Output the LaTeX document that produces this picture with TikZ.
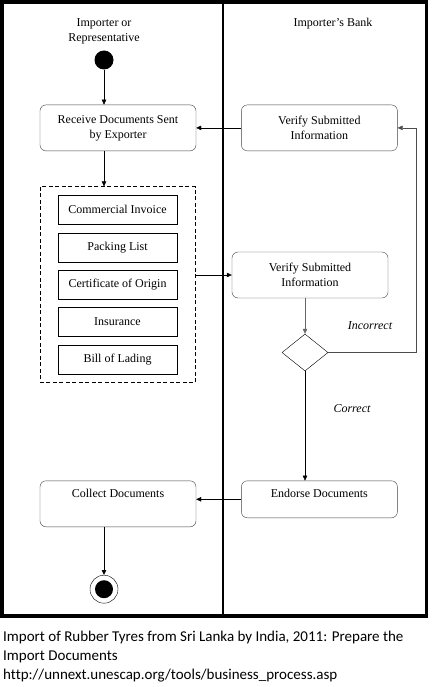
\documentclass[tikz,border=0pt]{standalone}
\usepackage{fontspec}
\setmainfont{Liberation Serif}
\newfontfamily\capfont[Ligatures=NoCommon]{Carlito}
\usetikzlibrary{positioning,arrows.meta,fit,shapes.geometric}

\begin{document}
\begin{tikzpicture}[
  x=1pt, y=-1pt,
  node distance=8pt,
  font=\fontsize{12}{15}\selectfont,
  act/.style={draw=black!75,rounded corners=6pt,minimum width=156pt,minimum height=46pt,align=center,inner sep=0pt},
  toptext/.style={inner ysep=5pt,text height=11.5pt,text depth=#1},
  doc/.style={draw,minimum width=119pt,minimum height=29pt,inner sep=0pt},
  lane/.style={align=center},
  guard/.style={font=\fontsize{12}{15}\selectfont\itshape},
  caption/.style={align=left,inner sep=0pt,font=\capfont\fontsize{15}{19}\selectfont},
  >={Triangle[length=5pt,width=4.5pt]}
]
\useasboundingbox (0,0) rectangle (431,687);
% swimlanes
\draw[line width=3.5pt] (2,2) rectangle (426.5,616);
\draw[line width=2pt] (223,2) -- (223,616);
\node[lane] (imptitle) at (104,31) {Importer or\\Representative};
\node[lane] (banktitle) at (333,24) {Importer's Bank};
% --- importer lane ---
\node[circle,fill,minimum size=19pt,inner sep=0pt] (start) at (104,60) {};
\node[act,below=35pt of start,xshift=14pt] (recv) {Receive Documents Sent\\by Exporter};
\node[doc,below=44pt of recv,xshift=-0.5pt] (ci) {Commercial Invoice};
\node[doc,below=of ci] (pl) {Packing List};
\node[doc,below=of pl] (co) {Certificate of Origin};
\node[doc,below=of co] (ins) {Insurance};
\node[doc,below=of ins] (bl) {Bill of Lading};
\node[draw,dashed,dash pattern=on 4pt off 2.5pt,fit=(ci)(bl),inner xsep=18pt,inner ysep=8.5pt] (docs) {};
\node[act,toptext=24.5pt,below=329.5pt of recv] (collect) {Collect Documents};
\node[circle,draw,minimum size=28pt,inner sep=0pt,below=48pt of collect,xshift=-14pt] (finish) {};
\node[circle,fill,minimum size=18pt,inner sep=0pt] (finishdot) at (finish) {};
% --- bank lane ---
\node[act,right=45pt of recv] (verA) {Verify Submitted\\Information};
\node[act] (verB) at (310,275) {Verify Submitted\\Information};
\node[diamond,draw,minimum width=46pt,minimum height=37pt,inner sep=0pt] (dec) at (305,352.5) {};
\node[act,minimum height=37pt,toptext=15.5pt,right=45pt of collect.north east,anchor=north west] (endorse) {Endorse Documents};
\node[guard] (incorrect) at (370,326) {Incorrect};
\node[guard] (correct) at (352,409) {Correct};
% connectors
\draw[->] (start) -- (start |- recv.north);
\draw[->] (verA) -- (recv);
\draw[->] (recv.south -| start) -- (docs.north -| start);
\draw[->] (docs.east |- verB.west) -- (verB.west);
\draw[->,black!60] (verB.south -| dec) -- (dec.north);
\draw[->,black!70] (dec.east) -- ++(88,0) |- (verA.east);
\draw[->] (dec.south) -- (dec.south |- endorse.north);
\draw[->] (endorse.west) -- (collect.east |- endorse.west);
\draw[->] (collect.south -| finish) -- (finish.north);
% source
\node[caption,anchor=north west] (source) at (3,631) {Import of Rubber Tyres from Sri Lanka by India, 2011: Prepare the\\Import Documents\\http://unnext.unescap.org/tools/business\_process.asp};
\end{tikzpicture}
\end{document}
